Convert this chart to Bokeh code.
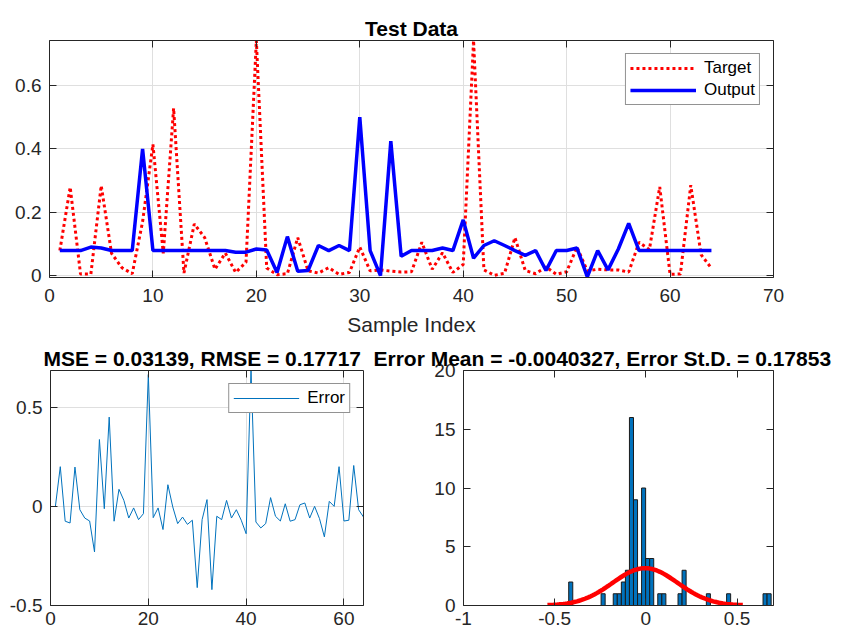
import numpy as np
from bokeh.plotting import figure
from bokeh.models import (Range1d, FixedTicker, LinearAxis, Legend, LegendItem,
                          CustomJSTickFormatter, CustomLabelingPolicy)
from bokeh.layouts import column, row
from bokeh.embed import file_html
from bokeh.resources import INLINE

# ---------------- data ----------------
sample_index = list(range(1, 65))

target = [0.079, 0.279, 0.005, 0.005, 0.284, 0.070, 0.025, 0.006, 0.170, 0.414,
          0.070, 0.528, 0.008, 0.163, 0.120, 0.020, 0.071, 0.010, 0.042, 0.742,
          0.024, 0.003, 0.006, 0.120, 0.015, 0.008, 0.025, 0.004, 0.010, 0.090,
          0.015, 0.018, 0.014, 0.011, 0.012, 0.105, 0.020, 0.072, 0.010, 0.035,
          0.742, 0.018, 0.001, 0.007, 0.120, 0.016, 0.006, 0.027, 0.004, 0.012,
          0.090, 0.015, 0.020, 0.018, 0.018, 0.011, 0.105, 0.082, 0.280, 0.004,
          0.005, 0.285, 0.066, 0.023]

output = [0.079, 0.079, 0.079, 0.090, 0.087, 0.079, 0.079, 0.079, 0.400, 0.079,
          0.079, 0.079, 0.079, 0.079, 0.079, 0.079, 0.079, 0.074, 0.074, 0.084,
          0.081, 0.010, 0.123, 0.014, 0.016, 0.095, 0.079, 0.095, 0.079, 0.500,
          0.079, 0.000, 0.424, 0.061, 0.079, 0.079, 0.079, 0.087, 0.079, 0.176,
          0.055, 0.095, 0.110, 0.095, 0.079, 0.064, 0.079, 0.016, 0.079, 0.079,
          0.087, -0.004, 0.079, 0.018, 0.084, 0.165, 0.079, 0.079, 0.079, 0.079,
          0.079, 0.079, 0.079, 0.079]

error = [0.000, 0.200, -0.075, -0.084, 0.198, -0.017, -0.059, -0.074, -0.230, 0.337,
         -0.012, 0.450, -0.075, 0.086, 0.030, -0.059, -0.008, -0.067, -0.037, 0.665,
         -0.057, -0.008, -0.117, 0.109, -0.003, -0.087, -0.054, -0.091, -0.070, -0.410,
         -0.067, 0.034, -0.420, -0.050, -0.067, 0.030, -0.059, -0.017, -0.070, -0.138,
         0.687, -0.079, -0.109, -0.087, 0.044, -0.050, -0.074, 0.013, -0.075, -0.067,
         0.008, 0.017, -0.059, 0.000, -0.062, -0.154, 0.025, 0.000, 0.200, -0.074,
         -0.070, 0.206, -0.017, -0.054]

hist_counts = [2, 0, 0, 0, 0, 0, 0, 0, 1, 0,
               0, 1, 1, 2, 3, 16, 9, 1, 10, 4,
               4, 0, 1, 1, 0, 0, 0, 1, 3, 0,
               0, 0, 0, 0, 1, 0, 0, 0, 0, 1,
               0, 0, 0, 0, 0, 0, 0, 0, 1, 1]
hist_min = -0.423
hist_max = 0.687

mse = "0.03139"
rmse = "0.17717"
error_mean = -0.0040327
error_std = 0.17853

top_xticks = [0, 10, 20, 30, 40, 50, 60, 70]
top_yticks = [0, 0.2, 0.4, 0.6]
err_xticks = [0, 20, 40, 60]
err_yticks = [-0.5, 0, 0.5]
hist_xticks = [-1, -0.5, 0, 0.5]
hist_yticks = [0, 5, 10, 15, 20]

# ---------------- style ----------------
FONT = "Liberation Sans"
AX = "#262626"
GRID = "#dfdfdf"
TICK_FS = "19px"
LABEL_FS = "21px"
fmt_code = "return String(Math.round(tick*10000)/10000);"
no_labels = "for (const i of indices) { indices.unset(i) }\nreturn indices"


def style(p, xt, yt, grid=True, xstand=8):
    top_ax = LinearAxis()
    right_ax = LinearAxis()
    p.add_layout(top_ax, "above")
    p.add_layout(right_ax, "right")
    for ax in p.xaxis:
        ax.ticker = FixedTicker(ticks=xt)
    for ax in p.yaxis:
        ax.ticker = FixedTicker(ticks=yt)
    for ax in p.axis:
        ax.axis_line_color = AX
        ax.axis_line_width = 1
        ax.major_tick_line_color = AX
        ax.major_tick_in = 7
        ax.major_tick_out = 0
        ax.minor_tick_line_color = None
        ax.major_label_text_font = FONT
        ax.major_label_text_font_size = TICK_FS
        ax.major_label_text_color = AX
        ax.formatter = CustomJSTickFormatter(code=fmt_code)
    for ax in (top_ax, right_ax):
        ax.major_label_policy = CustomLabelingPolicy(code=no_labels)
        ax.major_label_text_font_size = "0px"
        ax.major_label_standoff = 0
    p.below[0].major_label_standoff = xstand
    p.left[0].major_label_standoff = 8
    p.xgrid.ticker = FixedTicker(ticks=xt)
    p.ygrid.ticker = FixedTicker(ticks=yt)
    p.grid.grid_line_color = GRID if grid else None
    p.outline_line_color = None
    p.title.text_font = FONT
    p.title.text_font_size = LABEL_FS
    p.title.text_font_style = "bold"
    p.title.text_color = "black"
    p.title.standoff = 2


def make_legend(items):
    return Legend(items=items, location="top_right", glyph_width=66, glyph_height=18,
                  label_text_font=FONT, label_text_font_size="17px",
                  label_text_color="black", label_height=18, label_standoff=8,
                  padding=4, spacing=2, margin=13,
                  border_line_color=AX, border_line_width=1,
                  background_fill_color="white", background_fill_alpha=1)


# ---------------- top: Test Data ----------------
p1 = figure(width=856, height=338, min_border_left=49, min_border_right=83,
            min_border_top=40, min_border_bottom=61,
            x_range=Range1d(0, 70), y_range=Range1d(-0.006, 0.742),
            output_backend="svg", toolbar_location=None, title="Test Data")
style(p1, top_xticks, top_yticks, grid=True, xstand=11)
p1.title.align = "center"
xb = p1.below[0]
xb.axis_label = "Sample Index"
xb.axis_label_text_font = FONT
xb.axis_label_text_font_size = LABEL_FS
xb.axis_label_text_font_style = "normal"
xb.axis_label_text_color = AX
xb.axis_label_standoff = 8

r_t = p1.line(sample_index, target, line_color="#FF0000", line_width=3, line_dash="3 3")
r_o = p1.line(sample_index, output, line_color="#0000FF", line_width=3.5)
p1.add_layout(make_legend([LegendItem(label="Target", renderers=[r_t]),
                           LegendItem(label="Output", renderers=[r_o])]))

# ---------------- bottom left: Error ----------------
p2 = figure(width=370, height=296, min_border_left=50, min_border_right=7,
            min_border_top=32, min_border_bottom=29,
            x_range=Range1d(0, 64), y_range=Range1d(-0.5, 0.685),
            output_backend="svg", toolbar_location=None,
            title="MSE = " + mse + ", RMSE = " + rmse)
style(p2, err_xticks, err_yticks, grid=True, xstand=6)
p2.title.align = "left"
p2.title.offset = -7
r_e = p2.line(sample_index, error, line_color="#0072BD", line_width=1)
p2.add_layout(make_legend([LegendItem(label="Error", renderers=[r_e])]))

# ---------------- bottom right: histogram ----------------
p3 = figure(width=486, height=296, min_border_left=93, min_border_right=83,
            min_border_top=32, min_border_bottom=29,
            x_range=Range1d(-1, 0.7), y_range=Range1d(0, 20),
            output_backend="svg", toolbar_location=None,
            title="Error Mean = " + str(error_mean) + ", Error St.D. = " + str(error_std))
style(p3, hist_xticks, hist_yticks, grid=False, xstand=6)
p3.title.align = "left"
p3.title.offset = -90

nb = len(hist_counts)
bw = (hist_max - hist_min) / nb
edges = hist_min + bw * np.arange(nb + 1)
counts = np.array(hist_counts)
mask = counts > 0
p3.quad(left=edges[:-1][mask], right=edges[1:][mask], bottom=0, top=counts[mask],
        fill_color="#0072BD", line_color="#1a1a1a", line_width=1)

n_total = counts.sum()
xs = np.linspace(error_mean - 3 * error_std, error_mean + 3 * error_std, 100)
ys = n_total * bw / (error_std * np.sqrt(2 * np.pi)) * np.exp(-0.5 * ((xs - error_mean) / error_std) ** 2)
p3.line(xs, ys, line_color="#FF0000", line_width=4.5)

layout = column(p1, row(p2, p3))
open("out.html", "w").write(file_html(layout, INLINE))
